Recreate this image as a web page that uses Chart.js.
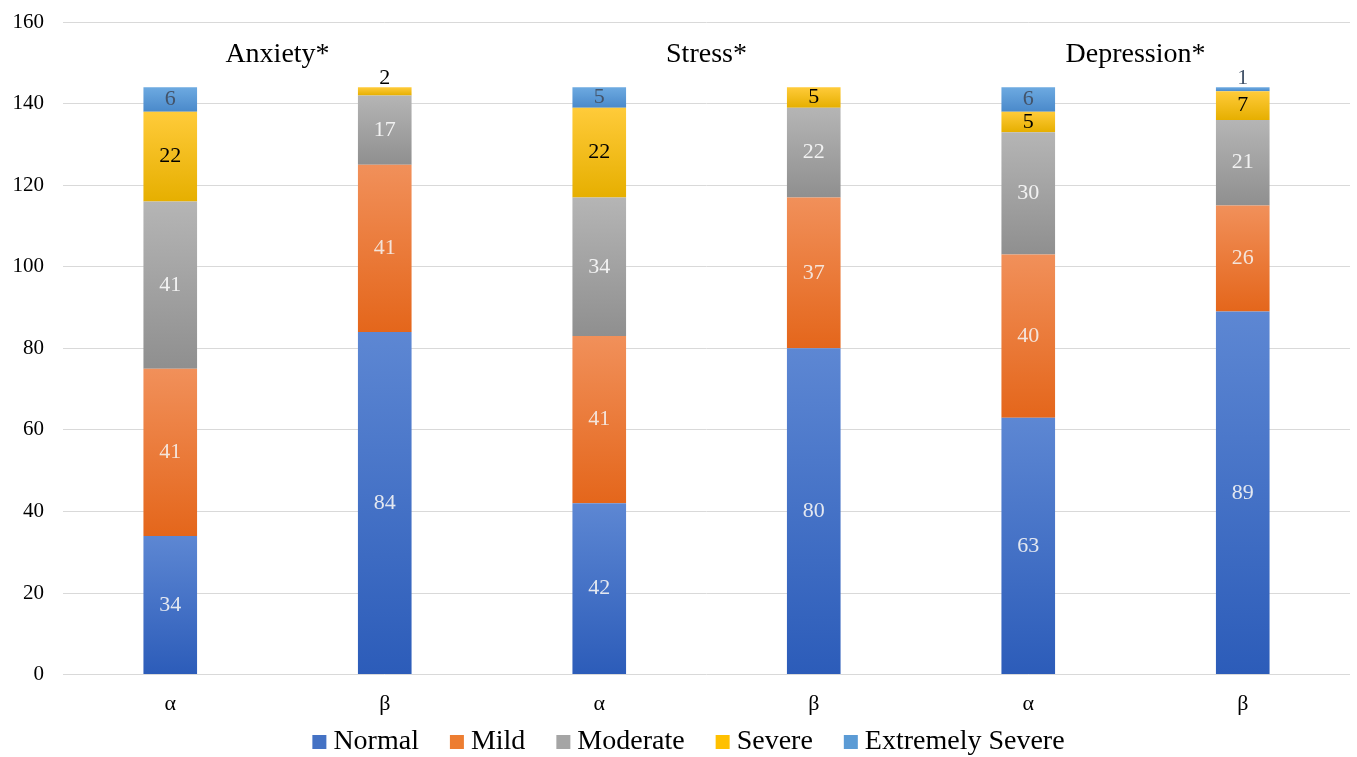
<!DOCTYPE html>
<html>
<head>
<meta charset="utf-8">
<script src="https://cdn.jsdelivr.net/npm/chart.js@4"></script>
<style>
  html, body { margin: 0; padding: 0; background: #ffffff; }
  #wrap { width: 1357px; height: 757px; }
</style>
</head>
<body>
<div id="wrap"><canvas id="c" width="1357" height="757"></canvas></div>
<script>
// Categories: two groups (α, β) for each DASS scale
const categories = ['α', 'β', 'α', 'β', 'α', 'β'];
const groupTitles = ['Anxiety*', 'Stress*', 'Depression*'];
const yTicks = [0, 20, 40, 60, 80, 100, 120, 140, 160];

// Counts per severity level, in category order
const normal          = [34, 84, 42, 80, 63, 89];
const mild            = [41, 41, 41, 37, 40, 26];
const moderate        = [41, 17, 34, 22, 30, 21];
const severe          = [22,  2, 22,  5,  5,  7];
const extremelySevere = [ 6,  0,  5,  0,  6,  1];

const FONT = '"Liberation Serif", "Times New Roman", serif';

// Series styling: gradient top/bottom colours and label colour
const series = [
  { label: 'Normal',           data: normal,          top: '#5D87D3', bottom: '#2C5CB9', base: '#4472C4', text: '#E4E8F0' },
  { label: 'Mild',             data: mild,            top: '#F1905A', bottom: '#E4661B', base: '#ED7D31', text: '#F4E4DA' },
  { label: 'Moderate',         data: moderate,        top: '#B5B5B5', bottom: '#8F8F8F', base: '#A5A5A5', text: '#F2F2F2' },
  { label: 'Severe',           data: severe,          top: '#FFCB3A', bottom: '#E6AF00', base: '#FFC000', text: '#000000' },
  { label: 'Extremely Severe', data: extremelySevere, top: '#6DAAE1', bottom: '#4A89CA', base: '#5B9BD5', text: '#44546A' }
];

// Bottom/top value of each stacked segment
function segmentRange(dsIndex, i) {
  let start = 0;
  for (let k = 0; k < dsIndex; k++) start += series[k].data[i];
  return [start, start + series[dsIndex].data[i]];
}

function gradientFor(ctx) {
  const chart = ctx.chart;
  const s = series[ctx.datasetIndex];
  const yScale = chart.scales.y;
  if (!yScale || ctx.dataIndex === undefined) return s.base;
  const [a, b] = segmentRange(ctx.datasetIndex, ctx.dataIndex);
  const yTop = yScale.getPixelForValue(b);
  const yBot = yScale.getPixelForValue(a);
  if (!isFinite(yTop) || !isFinite(yBot) || yTop === yBot) return s.base;
  const g = chart.ctx.createLinearGradient(0, yTop, 0, yBot);
  g.addColorStop(0, s.top);
  g.addColorStop(1, s.bottom);
  return g;
}

// Value labels inside segments; tiny segments get their label above the bar
const valueLabels = {
  id: 'valueLabels',
  afterDatasetsDraw(chart) {
    const c = chart.ctx;
    c.save();
    c.font = '22px ' + FONT;
    c.textAlign = 'center';
    c.textBaseline = 'middle';
    series.forEach((s, di) => {
      const meta = chart.getDatasetMeta(di);
      meta.data.forEach((el, i) => {
        const v = s.data[i];
        if (!v) return;
        c.fillStyle = s.text;
        if (v <= 2) {
          let total = 0;
          series.forEach(ss => total += ss.data[i]);
          const yTop = chart.scales.y.getPixelForValue(total);
          c.fillText(String(v), el.x, yTop - 9);
        } else {
          c.fillText(String(v), el.x, (el.y + el.base) / 2);
        }
      });
    });
    c.restore();
  }
};

// Scale titles centred over each α/β pair
const groupHeaders = {
  id: 'groupHeaders',
  afterDatasetsDraw(chart) {
    const c = chart.ctx;
    const x = chart.scales.x;
    const y = chart.scales.y;
    c.save();
    c.font = '28px ' + FONT;
    c.fillStyle = '#000000';
    c.textAlign = 'center';
    c.textBaseline = 'middle';
    groupTitles.forEach((t, g) => {
      const cx = (x.getPixelForValue(g * 2) + x.getPixelForValue(g * 2 + 1)) / 2;
      c.fillText(t, cx, y.getPixelForValue(152.1));
    });
    c.restore();
  }
};

// Compact legend row below the axis: square swatch, tight gap, then name
const bottomLegend = {
  id: 'bottomLegend',
  afterDraw(chart) {
    const c = chart.ctx;
    const box = 14, gapText = 7, gapItem = 31;
    c.save();
    c.font = '28px ' + FONT;
    c.textBaseline = 'middle';
    c.textAlign = 'left';
    const widths = series.map(s => c.measureText(s.label).width);
    let total = 0;
    widths.forEach((w, i) => { total += box + gapText + w + (i < widths.length - 1 ? gapItem : 0); });
    let x = chart.width / 2 + 10 - total / 2;
    const y = chart.height - 15;
    series.forEach((s, i) => {
      c.fillStyle = s.base;
      c.fillRect(x, y - box / 2, box, box);
      c.fillStyle = '#000000';
      c.fillText(s.label, x + box + gapText, y);
      x += box + gapText + widths[i] + gapItem;
    });
    c.restore();
  }
};

new Chart(document.getElementById('c'), {
  type: 'bar',
  data: {
    labels: categories,
    datasets: series.map(s => ({
      label: s.label,
      data: s.data,
      backgroundColor: gradientFor,
      borderWidth: 0,
      barPercentage: 0.5,
      categoryPercentage: 0.5
    }))
  },
  options: {
    responsive: false,
    animation: false,
    events: [],
    layout: { padding: { left: 13, right: 7, top: 22, bottom: 32 } },
    plugins: {
      tooltip: { enabled: false },
      legend: { display: false }
    },
    scales: {
      x: {
        stacked: true,
        grid: { display: false },
        border: { display: false },
        ticks: { font: { family: FONT, size: 22 }, color: '#000000', padding: 8 }
      },
      y: {
        stacked: true,
        min: 0,
        max: 160,
        afterBuildTicks(scale) { scale.ticks = yTicks.map(v => ({ value: v })); },
        afterFit(scale) {
          scale.width = 50;
          scale.paddingTop = 0;
          scale.paddingBottom = 0;
        },
        grid: { color: '#D9D9D9', lineWidth: 1, drawTicks: false },
        border: { display: false },
        ticks: { font: { family: FONT, size: 21 }, color: '#000000', padding: 19 }
      }
    }
  },
  plugins: [valueLabels, groupHeaders, bottomLegend]
});
</script>
</body>
</html>
